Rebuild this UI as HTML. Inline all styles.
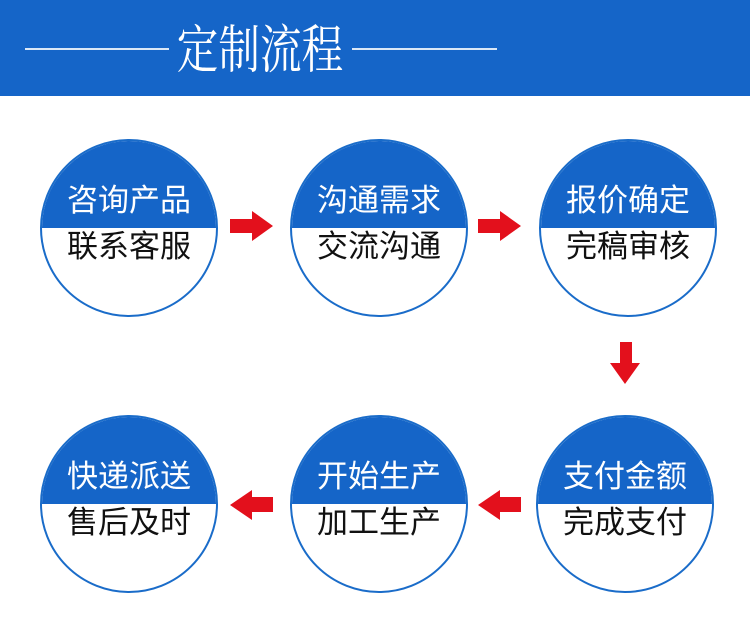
<!DOCTYPE html>
<html><head><meta charset="utf-8"><style>
body{margin:0;width:750px;height:638px;background:#fff;position:relative;overflow:hidden;font-family:"Liberation Sans","Noto Sans CJK SC",sans-serif}
.hd{position:absolute;left:0;top:0;width:750px;height:96px;background:#1565c8}
.ln{position:absolute;top:48px;height:2px;background:#dbe8f7}
.tt{position:absolute;left:156px;width:208px;top:12px;text-align:center;color:#fff;font-size:52px;line-height:68px;font-family:"Noto Serif CJK SC",serif;white-space:nowrap;transform:scaleX(0.8);transform-origin:center}
.c{position:absolute;width:174px;height:174px;border:2px solid #1a6cc9;border-radius:50%;overflow:hidden;background:#fff}
.c .t{position:absolute;left:0;top:0;width:100%;height:50%;background:#1565c8}
.c .a,.c .b{position:absolute;left:0;width:100%;text-align:center;font-size:31px;line-height:36px;white-space:nowrap}
.c .a{top:42px;color:#fff}
.c .b{top:88px;color:#111}
</style></head><body>
<div class="hd"></div>
<div class="ln" style="left:25px;width:144px"></div>
<div class="ln" style="left:352px;width:145px"></div>
<div class="tt">定制流程</div>

<div class="c" style="left:40px;top:139px"><div class="t"></div><div class="a">咨询产品</div><div class="b">联系客服</div></div>
<div class="c" style="left:290px;top:139px"><div class="t"></div><div class="a">沟通需求</div><div class="b">交流沟通</div></div>
<div class="c" style="left:539px;top:139px"><div class="t"></div><div class="a">报价确定</div><div class="b">完稿审核</div></div>
<div class="c" style="left:40px;top:415px"><div class="t"></div><div class="a">快递派送</div><div class="b">售后及时</div></div>
<div class="c" style="left:290px;top:415px"><div class="t"></div><div class="a">开始生产</div><div class="b">加工生产</div></div>
<div class="c" style="left:536px;top:415px"><div class="t"></div><div class="a">支付金额</div><div class="b">完成支付</div></div>

<svg width="750" height="638" style="position:absolute;left:0;top:0">
<g fill="#e3101c">
<polygon points="230,219 252,219 252,211 273,226 252,241 252,233 230,233"/>
<polygon points="478,219 500,219 500,211 521,226 500,241 500,233 478,233"/>
<polygon points="620,342 632,342 632,363 640,363 625,384 610,363 620,363"/>
<polygon points="521,497 500,497 500,490 478,505 500,520 500,512 521,512"/>
<polygon points="273,497 252,497 252,490 230,505 252,520 252,512 273,512"/>
</g></svg>
</body></html>
